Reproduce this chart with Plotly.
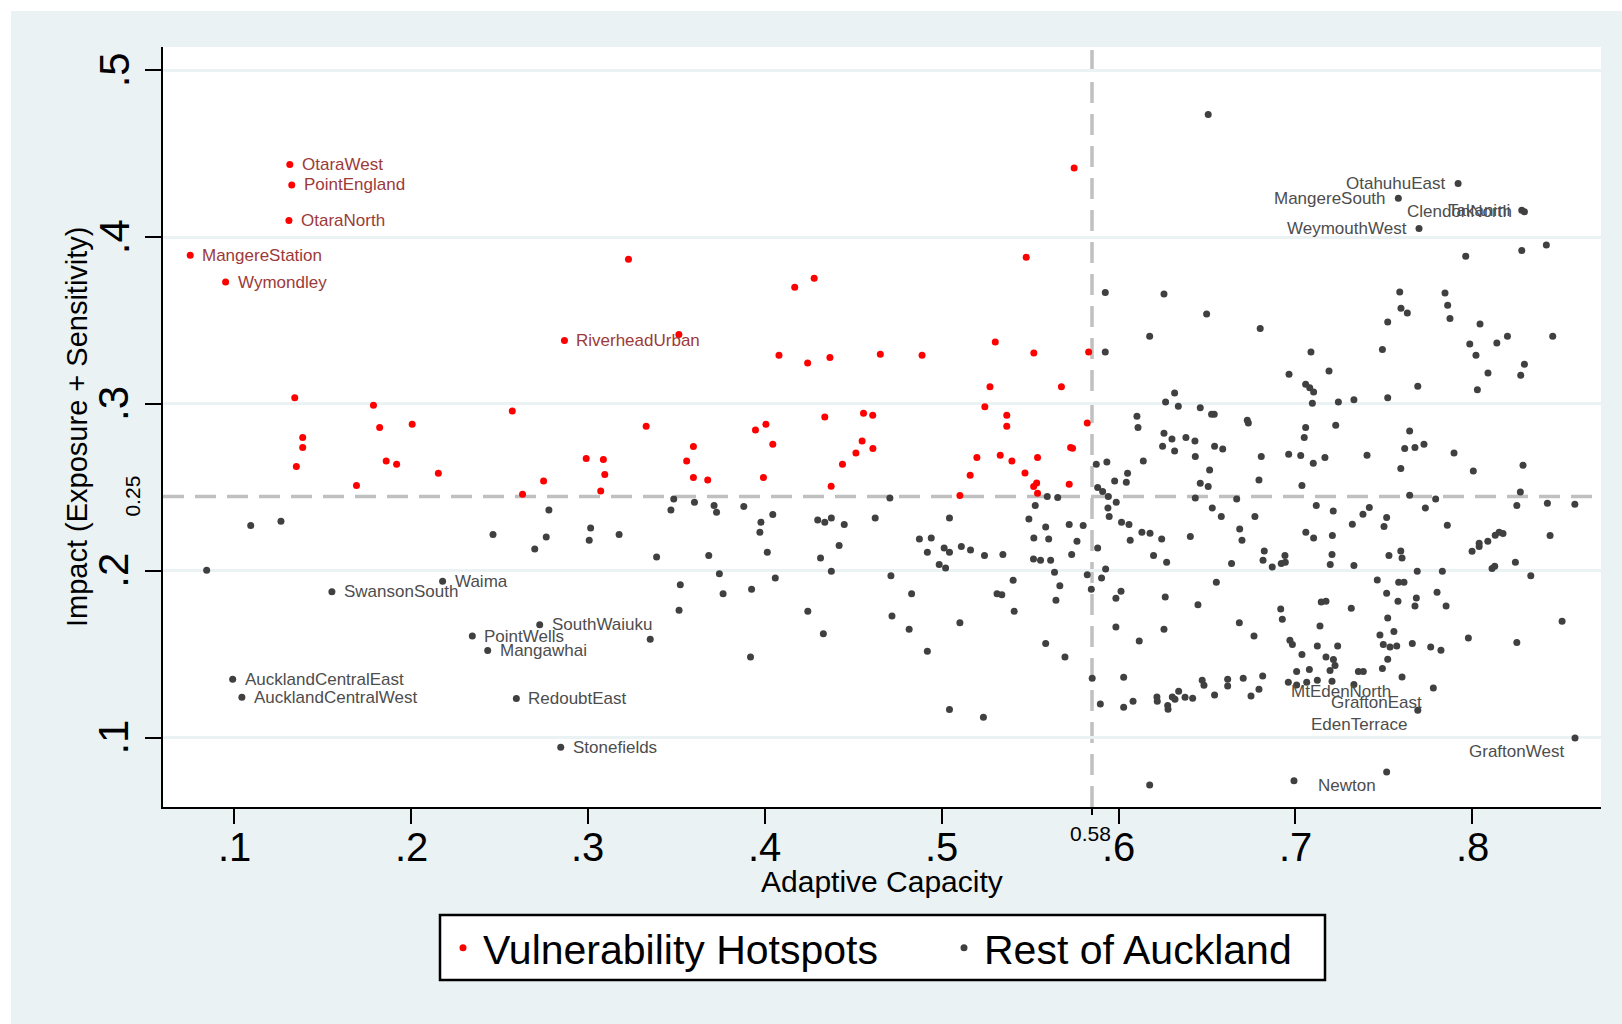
import plotly.graph_objects as go

# ---------------- data ----------------
hot_x = [0.1314, 0.1325, 0.1309, 0.0751, 0.0951, 0.2867, 0.3229, 0.3514, 0.1342, 0.1787,
         0.2572, 0.5749, 0.5478, 0.4279, 0.4169, 0.5303, 0.4080, 0.4242, 0.4368, 0.4653,
         0.4889, 0.5521, 0.5831, 0.5273, 0.5677, 0.5244, 0.5368, 0.4339, 0.4558, 0.4610,
         0.5368, 0.5823, 0.4550, 0.4611, 0.4515, 0.4439, 0.4375, 0.5199, 0.5331, 0.5397,
         0.5542, 0.5729, 0.5740, 0.5161, 0.5471, 0.5537, 0.5520, 0.5542, 0.5721, 0.5103,
         0.2990, 0.3087, 0.3095, 0.3072, 0.3329, 0.3558, 0.3596, 0.3596, 0.3677, 0.3947,
         0.4006, 0.4045, 0.3992, 0.1822, 0.2006, 0.1387, 0.1387, 0.1351, 0.1859, 0.1918,
         0.1691, 0.2154, 0.2630, 0.2749]
hot_y = [0.4435, 0.4313, 0.4100, 0.3892, 0.3731, 0.3380, 0.3868, 0.3416, 0.3038, 0.2992,
         0.2958, 0.4415, 0.3880, 0.3754, 0.3700, 0.3372, 0.3292, 0.3246, 0.3278, 0.3298,
         0.3292, 0.3306, 0.3312, 0.3104, 0.3104, 0.2984, 0.2932, 0.2922, 0.2944, 0.2932,
         0.2866, 0.2886, 0.2778, 0.2733, 0.2706, 0.2639, 0.2507, 0.2679, 0.2692, 0.2658,
         0.2679, 0.2739, 0.2735, 0.2573, 0.2586, 0.2526, 0.2505, 0.2465, 0.2519, 0.2451,
         0.2673, 0.2667, 0.2577, 0.2478, 0.2866, 0.2658, 0.2745, 0.2559, 0.2544, 0.2844,
         0.2878, 0.2758, 0.2559, 0.2859, 0.2878, 0.2799, 0.2739, 0.2625, 0.2658, 0.2639,
         0.2511, 0.2585, 0.2459, 0.2538]
hot_names = ["OtaraWest", "PointEngland", "OtaraNorth", "MangereStation", "Wymondley",
             "RiverheadUrban"] + [""] * 68

rest_x = [0.7920, 0.7582, 0.8280, 0.8295, 0.7699, 0.1552, 0.2178, 0.2727, 0.2346, 0.2433,
          0.0991, 0.1043, 0.2595, 0.2846, 0.7603, 0.7780, 0.7692, 0.7516, 0.8581,
          0.6507, 0.8419, 0.8280, 0.7963, 0.5925, 0.6257, 0.6498, 0.6176, 0.6801, 0.5925,
          0.7590, 0.7846, 0.7597, 0.7633, 0.7861, 0.7874, 0.7522, 0.8044, 0.7986, 0.8139,
          0.8199, 0.8455, 0.8021, 0.7492, 0.7088, 0.6964, 0.7190, 0.7058, 0.7081, 0.7103,
          0.8295, 0.8274, 0.8089, 0.7692, 0.8029, 0.7522, 0.7096, 0.7243, 0.7331, 0.6317,
          0.6266, 0.6338, 0.6462, 0.6526, 0.6541, 0.6104, 0.6728, 0.6734, 0.6110, 0.6257,
          0.6302, 0.6381, 0.6432, 0.6249, 0.6317, 0.6543, 0.6589, 0.6434, 0.6807, 0.6962,
          0.7030, 0.7101, 0.7167, 0.7058, 0.7050, 0.7228, 0.5874, 0.5934, 0.6140, 0.6051,
          0.5978, 0.6044, 0.6515, 0.6462, 0.6507, 0.6794, 0.7037, 0.5882, 0.5910, 0.5942,
          0.5987, 0.5940, 0.5947, 0.6434, 0.6668, 0.6530, 0.6581, 0.6771, 0.7118, 0.7214,
          0.5597, 0.5656, 0.5588, 0.5721, 0.5800, 0.5605, 0.5765, 0.5735, 0.5519, 0.5559,
          0.5616, 0.6017, 0.6059, 0.6132, 0.6178, 0.6066, 0.6244, 0.6406, 0.5882, 0.6198,
          0.6272, 0.6639, 0.6685, 0.6698, 0.6824, 0.6817, 0.6869, 0.6920, 0.6943, 0.6941,
          0.7059, 0.7103, 0.7209, 0.7207, 0.7197, 0.5823, 0.5927, 0.5904, 0.5638, 0.5668,
          0.5646, 0.5846, 0.6014, 0.5985, 0.6264, 0.6553, 0.6449, 0.6917, 0.7146, 0.7173,
          0.7646, 0.7618, 0.7676, 0.7727, 0.7897, 0.7405, 0.7596, 0.8006, 0.8287, 0.8272,
          0.7646, 0.7793, 0.7735, 0.8252, 0.8425, 0.8580, 0.7418, 0.7382, 0.7516, 0.7501,
          0.7322, 0.7859, 0.8440, 0.8174, 0.8152, 0.8130, 0.8088, 0.8039, 0.8039, 0.7999,
          0.7529, 0.7596, 0.7603, 0.7331, 0.8244, 0.8331, 0.8112, 0.8127, 0.7689, 0.7831,
          0.7463, 0.7584, 0.7614, 0.7516, 0.7801, 0.7684, 0.7676, 0.7580, 0.7852, 0.7316,
          0.6926, 0.7139, 0.5588, 0.5697, 0.5985, 0.6117, 0.6257, 0.6683, 0.6766, 0.6969,
          0.6983, 0.7037, 0.7124, 0.7239, 0.7173, 0.7215, 0.7224, 0.7196, 0.7079, 0.7007,
          0.6960, 0.7007, 0.7064, 0.7124, 0.7207, 0.5851, 0.6029, 0.5897, 0.6029, 0.6082,
          0.6217, 0.6219, 0.6278, 0.6280, 0.6304, 0.6319, 0.6340, 0.6376, 0.6419, 0.6473,
          0.6483, 0.6543, 0.6617, 0.6617, 0.6705, 0.6815, 0.6794, 0.6749, 0.6176, 0.6992,
          0.8508, 0.8252, 0.7978, 0.7522, 0.7478, 0.7557, 0.7497, 0.7535, 0.7573, 0.7661,
          0.7765, 0.7823, 0.7522, 0.7492, 0.7356, 0.7384, 0.7331,
          0.0844, 0.1093, 0.1264, 0.2463, 0.2699, 0.2764, 0.2779, 0.3007, 0.3015, 0.3176,
          0.3388, 0.3485, 0.3469, 0.3602, 0.3713, 0.3727, 0.3881, 0.3683, 0.3743, 0.3522,
          0.3764, 0.3515, 0.3352, 0.3925, 0.3919, 0.3978, 0.3972, 0.4045, 0.4014, 0.4059,
          0.4243, 0.4331, 0.4299, 0.4339, 0.4376, 0.4449, 0.4420, 0.4315, 0.4376, 0.4624,
          0.4707, 0.4713, 0.4719, 0.4830, 0.4816, 0.4919, 0.4874, 0.4941, 0.4919, 0.4986,
          0.5022, 0.5014, 0.5044, 0.5044, 0.5111, 0.5163, 0.5242, 0.5346, 0.5103, 0.5044,
          0.5236, 0.5313, 0.5340, 0.5404, 0.5410, 0.5493, 0.5529, 0.5521]
rest_y = [0.4321, 0.4233, 0.4161, 0.4153, 0.4052, 0.1875, 0.1937, 0.1677, 0.1609, 0.1522,
          0.1350, 0.1242, 0.1234, 0.0942, 0.1363, 0.1297, 0.1164, 0.0794, 0.0998,
          0.4735, 0.3953, 0.3920, 0.3885, 0.3668, 0.3659, 0.3540, 0.3406, 0.3452, 0.3312,
          0.3671, 0.3665, 0.3574, 0.3546, 0.3592, 0.3512, 0.3492, 0.3480, 0.3360, 0.3366,
          0.3406, 0.3406, 0.3292, 0.3326, 0.3312, 0.3178, 0.3198, 0.3118, 0.3098, 0.3072,
          0.3238, 0.3172, 0.3186, 0.3106, 0.3086, 0.3038, 0.3004, 0.3012, 0.3026, 0.3066,
          0.3012, 0.2986, 0.2978, 0.2938, 0.2938, 0.2926, 0.2902, 0.2886, 0.2859, 0.2824,
          0.2790, 0.2799, 0.2778, 0.2746, 0.2718, 0.2746, 0.2730, 0.2685, 0.2685, 0.2699,
          0.2691, 0.2644, 0.2679, 0.2859, 0.2799, 0.2872, 0.2639, 0.2652, 0.2658, 0.2585,
          0.2538, 0.2531, 0.2604, 0.2525, 0.2505, 0.2544, 0.2511, 0.2499, 0.2475, 0.2445,
          0.2411, 0.2377, 0.2325, 0.2436, 0.2430, 0.2377, 0.2325, 0.2325, 0.2391, 0.2359,
          0.2445, 0.2439, 0.2263, 0.2277, 0.2271, 0.2191, 0.2177, 0.2097, 0.2071, 0.2063,
          0.2063, 0.2291, 0.2277, 0.2231, 0.2225, 0.2183, 0.2191, 0.2205, 0.2137, 0.2091,
          0.2051, 0.2043, 0.2251, 0.2183, 0.2119, 0.2063, 0.2023, 0.2043, 0.2051, 0.2091,
          0.2231, 0.2197, 0.2211, 0.2097, 0.2037, 0.1977, 0.2011, 0.1957, 0.1991, 0.1911,
          0.1823, 0.1889, 0.1877, 0.1835, 0.1843, 0.1931, 0.1797, 0.1771, 0.1813, 0.1817,
          0.2838, 0.2733, 0.2739, 0.2758, 0.2706, 0.2692, 0.2613, 0.2598, 0.2632, 0.2472,
          0.2453, 0.2430, 0.2377, 0.2391, 0.2405, 0.2399, 0.2379, 0.2339, 0.2319, 0.2265,
          0.2279, 0.2273, 0.2211, 0.2223, 0.2231, 0.2213, 0.2177, 0.2165, 0.2145, 0.2117,
          0.2091, 0.2119, 0.2077, 0.2031, 0.2051, 0.1971, 0.2013, 0.2027, 0.1997, 0.1997,
          0.1945, 0.1931, 0.1931, 0.1865, 0.1871, 0.1837, 0.1789, 0.1817, 0.1789, 0.1775,
          0.1709, 0.1669, 0.1564, 0.1483, 0.1663, 0.1579, 0.1649, 0.1689, 0.1609, 0.1583,
          0.1558, 0.1498, 0.1549, 0.1549, 0.1483, 0.1468, 0.1433, 0.1403, 0.1409, 0.1396,
          0.1332, 0.1315, 0.1332, 0.1344, 0.1338, 0.1356, 0.1362, 0.1202, 0.1182, 0.1218,
          0.1243, 0.1218, 0.1192, 0.1170, 0.1243, 0.1230, 0.1278, 0.1242, 0.1236, 0.1344,
          0.1314, 0.1255, 0.1350, 0.1310, 0.1356, 0.1369, 0.1290, 0.1249, 0.0716, 0.0742,
          0.1697, 0.1570, 0.1597, 0.1717, 0.1615, 0.1636, 0.1558, 0.1543, 0.1549, 0.1564,
          0.1543, 0.1523, 0.1469, 0.1415, 0.1397, 0.1397, 0.1318,
          0.2003, 0.2271, 0.2297, 0.2217, 0.2131, 0.2203, 0.2365, 0.2183, 0.2257, 0.2217,
          0.2083, 0.2430, 0.2365, 0.2411, 0.2391, 0.2351, 0.2385, 0.2091, 0.1983, 0.1917,
          0.1863, 0.1763, 0.1589, 0.1889, 0.1483, 0.2291, 0.2231, 0.2337, 0.2111, 0.1957,
          0.1757, 0.1623, 0.2305, 0.2291, 0.2317, 0.2277, 0.2151, 0.2077, 0.1997, 0.2317,
          0.2436, 0.1971, 0.1729, 0.1863, 0.1649, 0.1517, 0.2191, 0.2197, 0.2111, 0.2037,
          0.2017, 0.2137, 0.2111, 0.2317, 0.2145, 0.2125, 0.2091, 0.2097, 0.1689, 0.1168,
          0.1122, 0.1863, 0.1857, 0.1943, 0.1757, 0.2311, 0.2391, 0.2197]
rest_names = ["OtahuhuEast", "MangereSouth", "Takanini", "ClendonNorth", "WeymouthWest",
              "SwansonSouth", "Waima", "SouthWaiuku", "PointWells", "Mangawhai",
              "AucklandCentralEast", "AucklandCentralWest", "RedoubtEast", "Stonefields",
              "MtEdenNorth", "GraftonEast", "EdenTerrace", "Newton", "GraftonWest"]
rest_names = rest_names + [""] * (len(rest_x) - len(rest_names))

x_ticks = [0.1, 0.2, 0.3, 0.4, 0.5, 0.6, 0.7, 0.8]
x_tick_text = [".1", ".2", ".3", ".4", ".5", ".6", ".7", ".8"]
y_ticks = [0.1, 0.2, 0.3, 0.4, 0.5]
y_tick_text = [".1", ".2", ".3", ".4", ".5"]
x_cut, x_cut_label = 0.585, "0.58"
y_cut, y_cut_label = 0.2445, "0.25"

# ---------------- styling / layout ----------------
W, H = 1622, 1024
L, R, T, B = 163, 1601, 47, 807
FONT = "Liberation Sans, Arial, sans-serif"
BG = "#EAF2F3"
RED = "#FF0000"
GREY = "#404040"
RED_LABEL = "#9C3A3A"
GREY_LABEL = "#4D4D4D"

# label clock positions (Stata-style)
pos_left = {"OtahuhuEast", "MangereSouth", "Takanini", "ClendonNorth", "WeymouthWest"}
pos_lowleft = {"MtEdenNorth", "GraftonEast", "EdenTerrace", "Newton", "GraftonWest"}


def px_x(p):
    return (p - L) / (R - L)


def px_y(p):
    return (B - p) / (B - T)


fig = go.Figure()
fig.add_trace(go.Scatter(x=hot_x, y=hot_y, mode="markers", name="Vulnerability Hotspots",
                         marker=dict(color=RED, size=7, line=dict(width=0)),
                         cliponaxis=False, legend="legend"))
fig.add_trace(go.Scatter(x=rest_x, y=rest_y, mode="markers", name="Rest of Auckland",
                         marker=dict(color=GREY, size=7, line=dict(width=0)),
                         cliponaxis=False, legend="legend2"))

ann = []


def add_labels(xs, ys, names, color):
    for xv, yv, nm in zip(xs, ys, names):
        if not nm:
            continue
        if nm in pos_left:
            a = dict(xanchor="right", xshift=-10, yshift=0)
        elif nm in pos_lowleft:
            a = dict(xanchor="right", xshift=-9, yshift=-14)
        else:
            a = dict(xanchor="left", xshift=10, yshift=0)
        ann.append(dict(x=xv, y=yv, xref="x", yref="y", text=nm, showarrow=False,
                        yanchor="middle", font=dict(family=FONT, size=17, color=color), **a))


add_labels(hot_x, hot_y, hot_names, RED_LABEL)
add_labels(rest_x, rest_y, rest_names, GREY_LABEL)

# y tick labels (rotated, Stata style)
for v, t in zip(y_ticks, y_tick_text):
    ann.append(dict(x=0, xref="paper", y=v, yref="y", text=t, showarrow=False,
                    textangle=-90, xanchor="center", yanchor="middle", xshift=-49,
                    font=dict(family=FONT, size=42, color="black")))
ann.append(dict(x=0, xref="paper", y=y_cut, yref="y", text=y_cut_label, showarrow=False,
                textangle=-90, xanchor="center", yanchor="middle", xshift=-30,
                font=dict(family=FONT, size=21, color="black")))
# x tick labels
for v, t in zip(x_ticks, x_tick_text):
    ann.append(dict(x=v, xref="x", y=0, yref="paper", text=t, showarrow=False,
                    xanchor="center", yanchor="middle", yshift=-40,
                    font=dict(family=FONT, size=40, color="black")))
ann.append(dict(x=x_cut, xref="x", y=0, yref="paper", text=x_cut_label, showarrow=False,
                xanchor="center", yanchor="middle", yshift=-26, xshift=-2,
                font=dict(family=FONT, size=21, color="black")))
# axis titles
ann.append(dict(x=0.5, xref="paper", y=0, yref="paper", text="Adaptive Capacity",
                showarrow=False, xanchor="center", yanchor="middle", yshift=-74,
                font=dict(family=FONT, size=30, color="black")))
ann.append(dict(x=0, xref="paper", y=0.5, yref="paper", text="Impact (Exposure + Sensitivity)",
                showarrow=False, textangle=-90, xanchor="center", yanchor="middle", xshift=-86,
                font=dict(family=FONT, size=29, color="black")))

shapes = [
    # reference lines
    dict(type="line", xref="x", yref="paper", x0=x_cut, x1=x_cut, y0=0, y1=1,
         line=dict(color="#C0C0C0", width=3.5, dash="21px,11px"), layer="between"),
    dict(type="line", xref="paper", yref="y", x0=0, x1=1, y0=y_cut, y1=y_cut,
         line=dict(color="#C0C0C0", width=3.5, dash="21px,11px"), layer="between"),
    # short tick at the cut point
    dict(type="line", xref="x", yref="paper", x0=x_cut, x1=x_cut, y0=0, y1=px_y(B + 8),
         line=dict(color="black", width=2)),
    # legend frame
    dict(type="rect", xref="paper", yref="paper", x0=px_x(440), x1=px_x(1325),
         y0=px_y(980), y1=px_y(915), fillcolor="white", line=dict(color="black", width=2.5),
         layer="below"),
    # white margins of the exported image
    dict(type="rect", xref="paper", yref="paper", x0=px_x(0), x1=px_x(11), y0=px_y(0), y1=px_y(H),
         fillcolor="white", line=dict(width=0), layer="above"),
    dict(type="rect", xref="paper", yref="paper", x0=px_x(0), x1=px_x(W), y0=px_y(0), y1=px_y(11),
         fillcolor="white", line=dict(width=0), layer="above"),
]

leg_common = dict(orientation="h", yanchor="middle", y=px_y(948), xanchor="left",
                  bgcolor="rgba(0,0,0,0)", borderwidth=0,
                  font=dict(family=FONT, size=41, color="black"), itemsizing="trace")

fig.update_layout(
    width=W, height=H, autosize=False,
    margin=dict(l=L, r=W - R, t=T, b=H - B, autoexpand=False),
    paper_bgcolor=BG, plot_bgcolor="white",
    font=dict(family=FONT, color="black"),
    showlegend=True,
    legend=dict(x=px_x(443), **leg_common),
    legend2=dict(x=px_x(944), **leg_common),
    xaxis=dict(range=[0.0597, 0.8728], showgrid=False, zeroline=False,
               showline=True, linecolor="black", linewidth=2,
               tickmode="array", tickvals=x_ticks, ticks="outside", ticklen=15,
               tickwidth=2, tickcolor="black", showticklabels=False),
    yaxis=dict(range=[0.0584, 0.514], showgrid=True, gridcolor=BG, gridwidth=3,
               zeroline=False, showline=True, linecolor="black", linewidth=2,
               tickmode="array", tickvals=y_ticks, ticks="outside", ticklen=16,
               tickwidth=2, tickcolor="black", showticklabels=False),
    annotations=ann, shapes=shapes,
)

fig.write_html("out.html", config={"displayModeBar": False},
               post_script="document.body.style.margin='0';document.body.style.overflow='hidden';")
